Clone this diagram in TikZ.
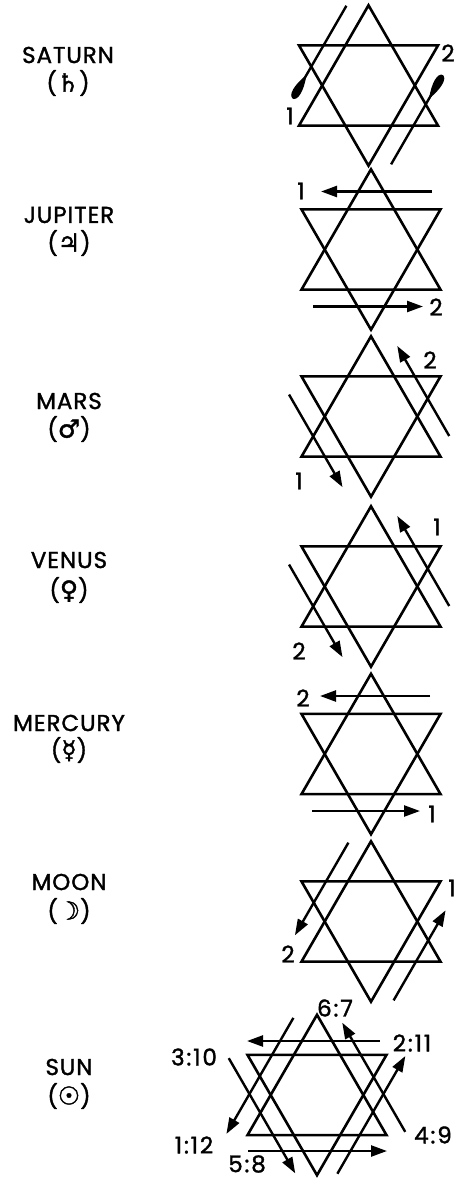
\documentclass[tikz,border=0pt]{standalone}
\usepackage{fontspec}
\setmainfont{Poppins}
\newfontfamily\labfont{Poppins}[FakeBold=1.5, LetterSpace=4]
\newfontfamily\numfont{Poppins}[FakeBold=1.5, LetterSpace=8]
\newfontfamily\symf{DejaVu Sans}[FakeBold=1.5]
\usetikzlibrary{arrows.meta,calc}
\tikzset{
  edge/.style={line width=2.6pt, line join=miter},
  ray/.style={line width=2.4pt},
  arr/.style={line width=2.4pt, -{Triangle[length=16pt,width=11pt]}},
  lbl/.style={font=\labfont\fontsize{23pt}{26pt}\selectfont, inner sep=0pt},
  num/.style={font=\numfont\fontsize{23pt}{26pt}\selectfont, inner sep=0pt},
  blobfill/.style={fill=black, draw=none},
}
\newcommand\psym[1]{({\symf\fontsize{25pt}{26pt}\selectfont #1})}
% star of David: name, centre
\newcommand\davidstar[2]{%
  \begin{scope}[shift={#2}]
    \coordinate (#1-u1) at (0,-80.2);
    \coordinate (#1-u2) at (-69.5,40.1);
    \coordinate (#1-u3) at (69.5,40.1);
    \coordinate (#1-d1) at (0,80.2);
    \coordinate (#1-d2) at (-69.5,-40.1);
    \coordinate (#1-d3) at (69.5,-40.1);
  \end{scope}
  \draw[edge] (#1-u1) -- (#1-u2) -- (#1-u3) -- cycle;
  \draw[edge] (#1-d1) -- (#1-d2) -- (#1-d3) -- cycle;}
% arrow: name, centre, angle, offset, start, tip
\newcommand\rayarrow[6]{%
  \begin{scope}[shift={#2},rotate=#3]
    \coordinate (#1-s) at (#5,#4);
    \coordinate (#1-e) at (#6,#4);
  \end{scope}
  \draw[arr] (#1-s) -- (#1-e);}
% saturn line with leaf end: name, centre, angle, offset, start, end, sign
\newcommand\leafline[7]{%
  \begin{scope}[shift={#2},rotate=#3]
    \coordinate (#1-s) at (#5,#4);
    \coordinate (#1-e) at (#6,#4);
    \fill[blobfill] ($(#6,#4)+(#7*27,0)$) .. controls ($(#6,#4)+(#7*12,6)$) and ($(#6,#4)+(0,5.5)$) .. (#6,#4)
       .. controls ($(#6,#4)+(0,-5.5)$) and ($(#6,#4)+(#7*12,-6)$) .. ($(#6,#4)+(#7*27,0)$) -- cycle;
  \end{scope}
  \draw[ray] (#1-s) -- (#1-e);}
\begin{document}
\begin{tikzpicture}[x=1pt,y=-1pt]
\useasboundingbox (0,0) rectangle (458,1178);

% ---------- labels ----------
\node[lbl] (satN) at (68,55) {SATURN};
\node[lbl] (satS) at (68,83) {\psym{♄}};
\node[lbl] (jupN) at (69,215) {JUPITER};
\node[lbl] (jupS) at (69,243) {\psym{♃}};
\node[lbl] (marN) at (69,401) {MARS};
\node[lbl] (marS) at (69,429) {\psym{♂}};
\node[lbl] (venN) at (69,560) {VENUS};
\node[lbl] (venS) at (69,590) {\psym{♀}};
\node[lbl] (merN) at (69,723) {MERCURY};
\node[lbl] (merS) at (69,750) {\psym{☿}};
\node[lbl] (mooN) at (69,882) {MOON};
\node[lbl] (mooS) at (69,911) {\psym{☽}};
\node[lbl] (sunN) at (69,1067) {SUN};
\node[lbl] (sunS) at (69,1096) {\psym{☉}};

% ---------- Saturn ----------
\davidstar{sat}{(368.5,85.5)}
\leafline{satA}{(368.5,85.5)}{60}{-59}{58}{-49}{1}
\leafline{satB}{(368.5,85.5)}{60}{59}{-57}{46}{-1}
\node[num] (sat1) at (290,116) {1};
\node[num] (sat2) at (448,53) {2};

% ---------- Jupiter ----------
\davidstar{jup}{(371,249.5)}
\rayarrow{jupA}{(371,249.5)}{0}{-58}{61}{-50}
\rayarrow{jupB}{(371,249.5)}{0}{57}{-58}{52}
\node[num] (jup1) at (301,191) {1};
\node[num] (jup2) at (436,307) {2};

% ---------- Mars ----------
\davidstar{mar}{(371,416.5)}
\rayarrow{marA}{(371,416.5)}{-60}{60}{-60}{47}
\rayarrow{marB}{(371,416.5)}{-60}{-58}{56}{-48}
\node[num] (mar1) at (299,481) {1};
\node[num] (mar2) at (430,360) {2};

% ---------- Venus ----------
\davidstar{ven}{(371,586.5)}
\rayarrow{venA}{(371,586.5)}{-60}{60}{-60}{47}
\rayarrow{venB}{(371,586.5)}{-60}{-58}{56}{-48}
\node[num] (ven1) at (437,527) {1};
\node[num] (ven2) at (299,651) {2};

% ---------- Mercury ----------
\davidstar{mer}{(371,754)}
\rayarrow{merA}{(371,754)}{0}{-58}{59}{-51}
\rayarrow{merB}{(371,754)}{0}{57}{-59}{49}
\node[num] (mer2) at (303,698) {2};
\node[num] (mer1) at (432,814) {1};

% ---------- Moon ----------
\davidstar{moo}{(371,921.5)}
\rayarrow{mooA}{(371,921.5)}{60}{-59}{57}{-50}
\rayarrow{mooB}{(371,921.5)}{60}{59}{-57}{47}
\node[num] (moo1) at (452,888) {1};
\node[num] (moo2) at (288,954) {2};

% ---------- Sun ----------
\davidstar{sun}{(317,1095)}
\rayarrow{sunA}{(317,1095)}{0}{-54}{63}{-70}
\rayarrow{sunB}{(317,1095)}{0}{56}{-69}{70}
\rayarrow{sunC}{(317,1095)}{60}{-59}{55}{-79}
\rayarrow{sunD}{(317,1095)}{60}{57}{-58}{78}
\rayarrow{sunE}{(317,1095)}{-60}{58}{-76}{57}
\rayarrow{sunF}{(317,1095)}{-60}{-58}{76}{-50}
\node[num] (sun67) at (335,1008) {6:7};
\node[num] (sun211) at (412,1043) {2:11};
\node[num] (sun310) at (194,1057) {3:10};
\node[num] (sun112) at (194,1145) {1:12};
\node[num] (sun49) at (433,1135) {4:9};
\node[num] (sun58) at (247,1164) {5:8};
\end{tikzpicture}
\end{document}
